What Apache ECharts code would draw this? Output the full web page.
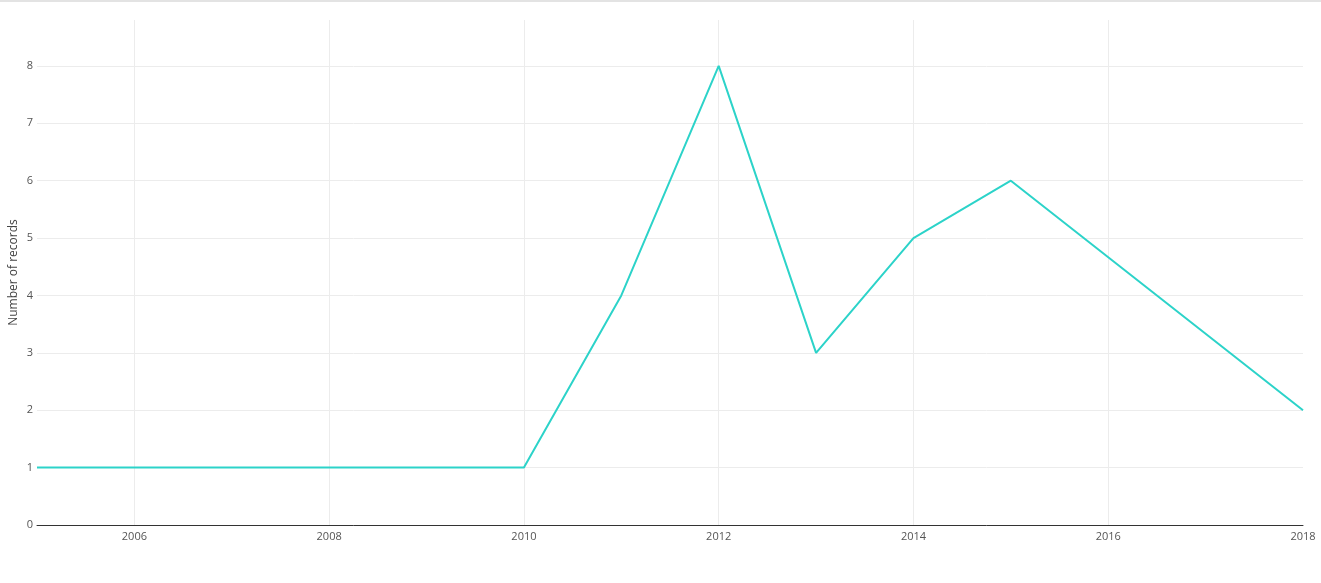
<!DOCTYPE html>
<html><head><meta charset="utf-8">
<script src="https://cdn.jsdelivr.net/npm/echarts@6/dist/echarts.min.js"></script>
<style>html,body{margin:0;padding:0;background:#fff;}#top{height:2px;background:#e3e3e3;}#c{width:1321px;height:581px;}</style>
</head><body><div id="top"></div><div id="c"></div>
<script>
const years = ['2005','2006','2007','2008','2009','2010','2011','2012','2013','2014','2015','2016','2017','2018'];
const records = [1, 1, 1, 1, 1, 1, 4, 8, 3, 5, 6, null, null, 2];
const yMax = 8.8;

const chart = echarts.init(document.getElementById('c'));
const fontFam = '"Open Sans", "Noto Sans", sans-serif';
// y ticks: 0..8 plus extent max 8.8 (hidden)
const splitColors = ['#ececec','#ececec','#ececec','#ececec','#ececec','#ececec','#ececec','#ececec','#ececec','rgba(0,0,0,0)'];
chart.setOption({
  animation: false,
  grid: { left: 37, right: 18, top: 18, bottom: 58, containLabel: false, outerBoundsMode: 'none' },
  xAxis: {
    type: 'category',
    data: years,
    boundaryGap: false,
    axisLine: { show: true, lineStyle: { color: '#333', width: 1 } },
    axisTick: { show: false },
    axisLabel: {
      interval: (i, v) => (parseInt(v) % 2 === 0),
      color: '#555', fontSize: 11, fontFamily: fontFam, margin: 6
    },
    splitLine: {
      show: true,
      interval: (i, v) => (parseInt(v) % 2 === 0 && i < years.length - 1),
      lineStyle: { color: '#ececec', width: 1 }
    }
  },
  yAxis: {
    type: 'value',
    min: 0, max: yMax, interval: 1,
    name: 'Number of records',
    nameLocation: 'middle',
    nameGap: 17,
    nameMoveOverlap: false,
    nameTextStyle: { color: '#444', fontSize: 12, fontFamily: fontFam },
    axisLine: { show: false },
    axisTick: { show: false },
    axisLabel: {
      color: '#555', fontSize: 11, fontFamily: fontFam, margin: 4,
      formatter: v => (Number.isInteger(v) ? String(v) : '')
    },
    splitLine: { show: true, lineStyle: { color: splitColors, width: 1 } }
  },
  series: [{
    type: 'line',
    data: records,
    connectNulls: true,
    showSymbol: false,
    symbol: 'none',
    lineStyle: { color: '#2cd3c9', width: 2 },
    itemStyle: { color: '#2cd3c9' }
  }]
});
</script></body></html>
